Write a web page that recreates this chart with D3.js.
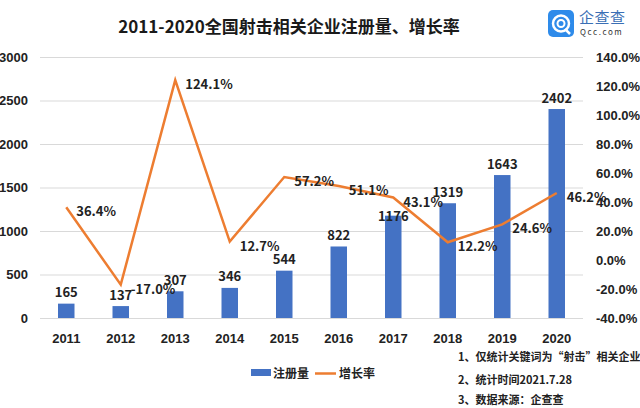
<!DOCTYPE html>
<html><head><meta charset="utf-8">
<script src="https://cdn.jsdelivr.net/npm/d3@7"></script>
<style>
body{margin:0;background:#fff;}
svg{display:block;font-family:"Noto Sans CJK SC","Noto Sans",sans-serif;}
</style></head>
<body><svg id="c" width="640" height="408"></svg>
<script>
const years = ["2011","2012","2013","2014","2015","2016","2017","2018","2019","2020"];
const registrations = [165,137,307,346,544,822,1176,1319,1643,2402];
const growthRates = [36.4,-17.0,124.1,12.7,57.2,51.1,43.1,12.2,24.6,46.2];
const leftTicks = [0,500,1000,1500,2000,2500,3000];
const rightTicks = [-40,-20,0,20,40,60,80,100,120,140];
const titleText = "2011-2020全国射击相关企业注册量、增长率";
const legendLabels = ["注册量","增长率"];
const notes = ["1、仅统计关键词为“射击”相关企业","2、统计时间2021.7.28","3、数据来源：企查查"];

const svg = d3.select("#c");
const blue = "#4472C4", orange = "#ED7D31";
const x = d3.scaleBand().domain(years).range([39,584]);
const yL = d3.scaleLinear().domain([0,3000]).range([318,57]);
const yR = d3.scaleLinear().domain([-40,140]).range([318,57]);
const cx = i => x(years[i]) + x.bandwidth()/2;

// title
svg.append("text").attr("x",289).attr("y",33).attr("text-anchor","middle")
  .attr("font-size",17).attr("font-weight","bold").attr("fill","#1a1a1a").text(titleText);

// logo
const lg = svg.append("g");
lg.append("rect").attr("x",548).attr("y",10).attr("width",26).attr("height",27).attr("rx",5).attr("fill","#2E8BEA");
lg.append("circle").attr("cx",561).attr("cy",23.5).attr("r",8).attr("fill","none").attr("stroke","#fff").attr("stroke-width",2.5);
lg.append("circle").attr("cx",561).attr("cy",23.5).attr("r",3.5).attr("fill","none").attr("stroke","#fff").attr("stroke-width",2);
lg.append("line").attr("x1",565).attr("y1",29).attr("x2",570).attr("y2",34).attr("stroke","#fff").attr("stroke-width",2.5);
lg.append("text").attr("x",579).attr("y",23).attr("font-size",15).attr("fill","#3b6fb5").attr("letter-spacing",0.5).text("企查查");
lg.append("text").attr("x",580).attr("y",35).attr("font-size",8).attr("fill","#333").attr("letter-spacing",1.6).text("Qcc.com");

// gridlines
svg.append("g").selectAll("line").data(leftTicks).join("line")
  .attr("x1",40).attr("x2",583).attr("y1",d=>yL(d)+0.5).attr("y2",d=>yL(d)+0.5)
  .attr("stroke","#d9d9d9").attr("stroke-width",1);

// left axis
const axL = svg.append("g").attr("transform","translate(28,0)")
  .call(d3.axisLeft(yL).tickValues(leftTicks).tickSize(0).tickPadding(0).tickFormat(d3.format("d")));
axL.select(".domain").remove();
axL.selectAll("text").attr("font-size",13).attr("font-weight","bold").attr("fill","#222").attr("font-family","inherit");

// right axis
const axR = svg.append("g").attr("transform","translate(596,0)")
  .call(d3.axisRight(yR).tickValues(rightTicks).tickSize(0).tickPadding(0).tickFormat(d=>d.toFixed(1)+"%"));
axR.select(".domain").remove();
axR.selectAll("text").attr("font-size",13).attr("font-weight","bold").attr("fill","#222").attr("font-family","inherit");

// bottom axis
const axB = svg.append("g").attr("transform","translate(0,318)")
  .call(d3.axisBottom(x).tickSize(0).tickPadding(16));
axB.select(".domain").remove();
axB.selectAll("text").attr("font-size",13).attr("font-weight","bold").attr("fill","#222").attr("font-family","inherit");

// bars
const bw = 16.5;
svg.append("g").selectAll("rect").data(registrations).join("rect")
  .attr("x",(d,i)=>cx(i)-bw/2)
  .attr("y",d=>yL(d)).attr("width",bw).attr("height",d=>yL(0)-yL(d)).attr("fill",blue);

// bar labels (pushed down onto the bar top when the line runs through the label)
svg.append("g").selectAll("text").data(registrations).join("text")
  .attr("x",(d,i)=>cx(i))
  .attr("y",(d,i)=>{
    const base = yL(d)-6.5;
    const ly = yR(growthRates[i]);
    return (ly > base-14 && ly < base+3) ? base+12 : base;
  })
  .attr("text-anchor","middle").attr("font-size",13).attr("font-weight","bold").attr("fill","#222")
  .text(d=>d);

// line
const line = d3.line().x((d,i)=>cx(i)).y(d=>yR(d));
svg.append("path").datum(growthRates).attr("d",line).attr("fill","none")
  .attr("stroke",orange).attr("stroke-width",2.5).attr("stroke-linejoin","miter");

// line labels
svg.append("g").selectAll("text").data(growthRates).join("text")
  .attr("x",(d,i)=>cx(i)+10).attr("y",d=>yR(d)+9)
  .attr("font-size",13).attr("font-weight","bold").attr("fill","#222")
  .text(d=>d.toFixed(1)+"%");

// legend
svg.append("rect").attr("x",251).attr("y",369).attr("width",20).attr("height",7).attr("fill",blue);
svg.append("text").attr("x",273).attr("y",378).attr("font-size",12).attr("font-weight","bold").attr("fill","#222").text(legendLabels[0]);
svg.append("line").attr("x1",315).attr("x2",336).attr("y1",373.5).attr("y2",373.5).attr("stroke",orange).attr("stroke-width",2.5);
svg.append("text").attr("x",339).attr("y",378).attr("font-size",12).attr("font-weight","bold").attr("fill","#222").text(legendLabels[1]);

// notes
svg.append("g").selectAll("text").data(notes).join("text")
  .attr("x",458).attr("y",(d,i)=>[361,384,404][i])
  .attr("font-size",11).attr("font-weight","bold").attr("fill","#222").text(d=>d);
</script></body></html>
